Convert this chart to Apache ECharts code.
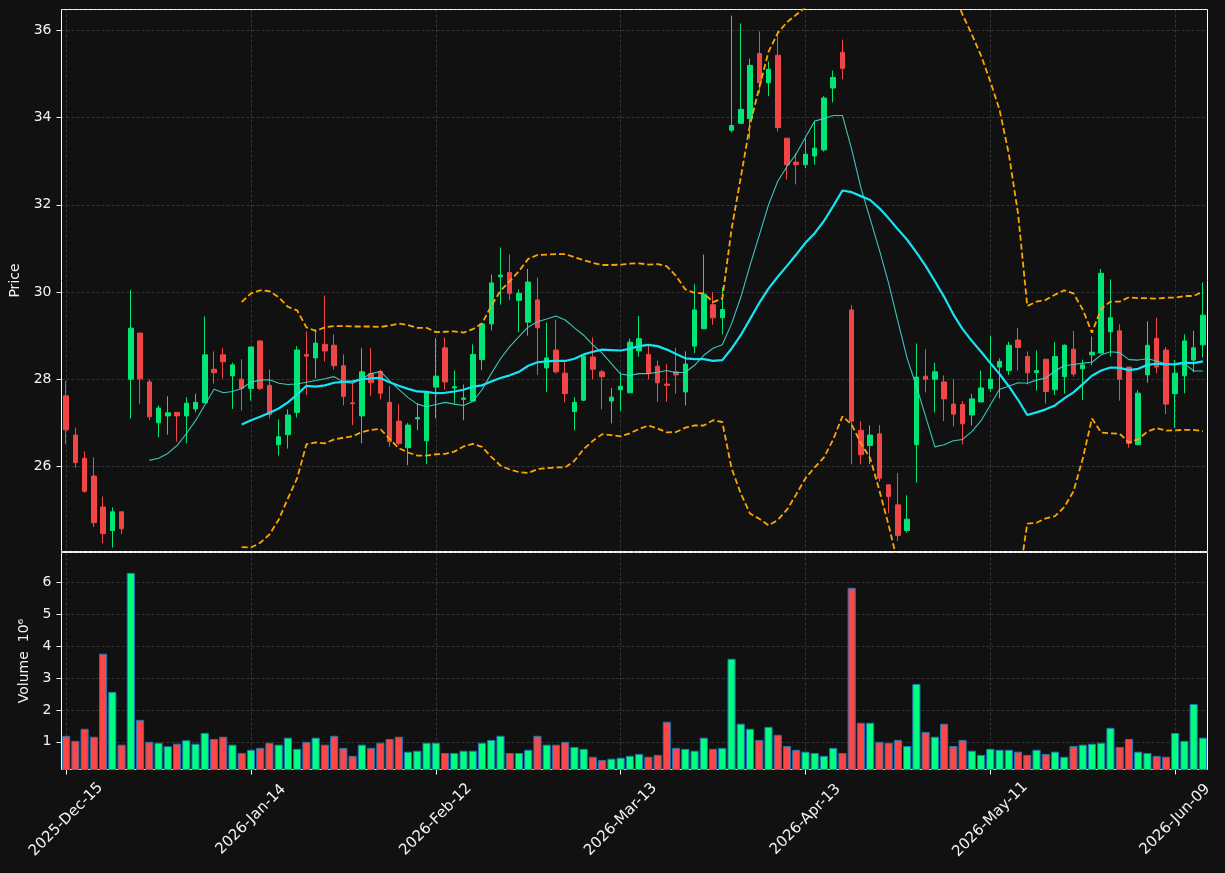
<!DOCTYPE html>
<html><head><meta charset="utf-8">
<script src="https://cdn.jsdelivr.net/npm/echarts@6/dist/echarts.min.js"></script>
<style>html,body{margin:0;padding:0;background:#111111}#chart{width:1225px;height:873px}</style></head>
<body><div id="chart"></div>
<script>
// ---- categories (NYSE trading days) ----
const dates=['2025-Dec-15','2025-Dec-16','2025-Dec-17','2025-Dec-18','2025-Dec-19','2025-Dec-22','2025-Dec-23','2025-Dec-24','2025-Dec-26','2025-Dec-29',
'2025-Dec-30','2025-Dec-31','2026-Jan-02','2026-Jan-05','2026-Jan-06','2026-Jan-07','2026-Jan-08','2026-Jan-09','2026-Jan-12','2026-Jan-13',
'2026-Jan-14','2026-Jan-15','2026-Jan-16','2026-Jan-20','2026-Jan-21','2026-Jan-22','2026-Jan-23','2026-Jan-26','2026-Jan-27','2026-Jan-28',
'2026-Jan-29','2026-Jan-30','2026-Feb-02','2026-Feb-03','2026-Feb-04','2026-Feb-05','2026-Feb-06','2026-Feb-09','2026-Feb-10','2026-Feb-11',
'2026-Feb-12','2026-Feb-13','2026-Feb-17','2026-Feb-18','2026-Feb-19','2026-Feb-20','2026-Feb-23','2026-Feb-24','2026-Feb-25','2026-Feb-26',
'2026-Feb-27','2026-Mar-02','2026-Mar-03','2026-Mar-04','2026-Mar-05','2026-Mar-06','2026-Mar-09','2026-Mar-10','2026-Mar-11','2026-Mar-12',
'2026-Mar-13','2026-Mar-16','2026-Mar-17','2026-Mar-18','2026-Mar-19','2026-Mar-20','2026-Mar-23','2026-Mar-24','2026-Mar-25','2026-Mar-26',
'2026-Mar-27','2026-Mar-30','2026-Mar-31','2026-Apr-01','2026-Apr-02','2026-Apr-06','2026-Apr-07','2026-Apr-08','2026-Apr-09','2026-Apr-10',
'2026-Apr-13','2026-Apr-14','2026-Apr-15','2026-Apr-16','2026-Apr-17','2026-Apr-20','2026-Apr-21','2026-Apr-22','2026-Apr-23','2026-Apr-24',
'2026-Apr-27','2026-Apr-28','2026-Apr-29','2026-Apr-30','2026-May-01','2026-May-04','2026-May-05','2026-May-06','2026-May-07','2026-May-08',
'2026-May-11','2026-May-12','2026-May-13','2026-May-14','2026-May-15','2026-May-18','2026-May-19','2026-May-20','2026-May-21','2026-May-22',
'2026-May-26','2026-May-27','2026-May-28','2026-May-29','2026-Jun-01','2026-Jun-02','2026-Jun-03','2026-Jun-04','2026-Jun-05','2026-Jun-08',
'2026-Jun-09','2026-Jun-10','2026-Jun-11','2026-Jun-12'];

// ---- OHLC ----
const opens=[27.62,26.72,26.19,25.78,25.07,24.53,24.96,28.00,29.06,27.94,27.00,27.16,27.24,27.16,27.32,27.46,28.23,28.56,28.08,28.00,
27.79,28.88,27.86,26.50,26.73,27.24,28.57,28.49,28.80,28.78,28.31,27.46,27.16,28.13,28.18,27.47,27.04,26.43,27.09,26.59,
27.82,28.72,27.80,27.54,27.50,28.45,29.27,30.35,30.45,29.81,29.31,29.82,28.26,28.67,28.14,27.26,27.52,28.51,28.17,27.50,
27.76,27.69,28.65,28.57,28.30,27.89,28.17,27.71,28.76,29.16,29.71,29.41,33.71,33.87,33.98,35.47,34.80,35.43,33.53,32.98,
32.92,33.12,33.26,34.68,35.50,29.59,26.83,26.48,26.75,25.58,25.12,24.53,26.50,28.07,28.00,27.94,27.43,27.42,27.18,27.48,
27.79,28.28,28.20,28.90,28.52,28.15,28.46,27.76,28.06,28.69,28.24,28.56,28.60,29.09,29.11,28.28,26.50,28.10,28.94,28.67,
27.67,28.08,28.44,28.79];
const highs=[27.96,26.89,26.35,26.21,25.31,25.06,24.96,30.05,29.06,28.00,27.40,27.61,27.24,27.59,27.67,29.44,28.64,28.72,28.38,28.46,
28.74,28.88,28.22,27.08,27.31,28.76,29.10,29.15,29.92,29.03,28.57,27.92,28.72,28.72,28.22,27.85,27.43,27.00,27.45,27.72,
28.94,28.96,28.20,27.88,28.80,29.27,30.40,31.02,30.86,30.06,30.53,30.33,29.30,29.37,28.40,27.59,28.55,28.96,28.22,27.80,
28.16,28.93,29.45,28.77,28.43,28.35,28.72,28.64,30.18,30.86,30.00,30.11,36.34,36.16,35.35,35.98,35.29,35.98,33.53,33.18,
33.52,33.92,34.49,35.08,35.79,29.70,27.04,26.94,26.95,25.58,25.85,25.34,28.82,28.69,28.38,28.09,28.00,27.50,27.66,28.20,
29.00,28.48,28.86,29.18,28.64,28.66,28.46,28.85,28.80,29.11,28.45,28.98,30.53,30.29,29.26,28.28,27.75,29.33,29.41,28.74,
28.44,29.03,29.11,30.22];
const lows=[26.51,25.97,25.40,24.61,24.24,24.14,24.45,27.10,27.43,27.06,26.67,26.73,26.57,26.53,27.24,27.46,27.90,28.02,27.32,27.28,
27.51,27.75,27.10,26.25,26.41,27.12,27.64,28.02,28.41,28.22,27.40,26.95,26.53,27.61,27.54,26.45,26.49,26.03,26.83,26.05,
27.10,27.76,27.44,27.06,27.50,28.21,29.12,29.71,29.81,29.08,29.00,28.10,27.71,28.13,27.47,26.83,27.50,28.00,27.31,26.99,
27.27,27.69,28.52,28.00,27.48,27.48,27.67,27.40,28.60,29.16,29.25,29.03,33.66,33.87,33.52,34.56,34.49,33.68,32.58,32.47,
32.84,32.92,33.22,34.35,34.88,26.05,26.05,26.05,25.65,24.93,24.29,24.48,25.63,27.70,27.24,27.04,26.92,26.51,26.94,27.48,
27.71,27.56,28.10,28.20,27.88,27.74,27.44,27.64,27.67,28.06,27.52,28.32,28.60,28.52,27.51,26.43,26.49,27.92,28.14,27.20,
26.88,27.68,28.16,28.50];
const closes=[26.84,26.09,25.43,24.71,24.46,24.96,24.57,29.17,28.01,27.14,27.34,27.23,27.16,27.45,27.47,28.56,28.15,28.40,28.33,27.79,
28.74,27.79,27.19,26.68,27.18,28.67,28.53,28.83,28.65,28.31,27.61,27.44,28.17,27.92,27.68,26.57,26.53,26.95,27.12,27.72,
28.07,27.94,27.83,27.57,28.57,29.27,30.21,30.39,29.97,29.97,30.23,29.18,28.49,28.17,27.67,27.47,28.53,28.23,28.06,27.59,
27.84,28.85,28.93,28.14,27.92,27.86,28.10,28.35,29.59,29.95,29.41,29.60,33.82,34.19,35.20,34.80,35.11,33.77,32.92,32.92,
33.16,33.30,34.45,34.92,35.13,27.04,26.27,26.72,25.73,25.31,24.42,24.79,28.05,28.00,28.17,27.55,27.20,26.98,27.55,27.80,
28.00,28.41,28.78,28.73,28.15,28.20,27.72,28.52,28.78,28.12,28.33,28.62,30.43,29.41,28.00,26.53,27.68,28.78,28.28,27.43,
28.14,28.88,28.72,29.47];

// ---- volume (millions) ----
const volumes=[1.19,1.03,1.41,1.16,3.77,2.57,0.91,6.31,1.69,1.00,0.97,0.86,0.94,1.05,0.94,1.28,1.09,1.16,0.91,0.65,
0.75,0.81,0.97,0.91,1.13,0.78,1.00,1.13,0.91,1.19,0.81,0.56,0.91,0.81,0.97,1.09,1.16,0.69,0.72,0.97,
0.97,0.65,0.65,0.72,0.72,0.97,1.06,1.19,0.65,0.65,0.75,1.19,0.91,0.91,1.00,0.84,0.78,0.53,0.43,0.47,
0.50,0.56,0.62,0.53,0.59,1.63,0.81,0.78,0.72,1.13,0.78,0.81,3.61,1.57,1.41,1.06,1.47,1.22,0.87,0.75,
0.69,0.65,0.56,0.81,0.65,5.84,1.60,1.60,1.00,0.97,1.06,0.87,2.82,1.31,1.16,1.57,0.87,1.06,0.72,0.59,
0.78,0.75,0.75,0.69,0.59,0.75,0.62,0.69,0.53,0.87,0.91,0.94,0.97,1.44,0.84,1.09,0.69,0.65,0.56,0.53,
1.28,1.03,2.19,1.13];

// ---- indicator lines as read (MA10 from index 9, MA20 / bands from index 19) ----
const ma10=[26.14,26.19,26.30,26.48,26.75,27.05,27.41,27.77,27.69,27.72,27.79,27.93,27.98,27.99,27.91,27.88,27.89,27.93,27.97,28.01,
28.06,27.94,27.91,28.01,28.13,28.18,27.97,27.77,27.58,27.43,27.37,27.42,27.47,27.43,27.40,27.49,27.76,28.13,28.47,28.75,
28.98,29.20,29.32,29.38,29.45,29.36,29.18,29.01,28.79,28.60,28.36,28.12,28.09,28.13,28.13,28.16,28.20,28.15,28.16,28.32,
28.55,28.71,28.79,29.27,29.88,30.61,31.30,32.00,32.54,32.88,33.17,33.55,33.92,33.98,34.05,34.05,33.27,32.39,31.68,30.96,
30.20,29.33,28.48,27.84,27.15,26.45,26.50,26.59,26.62,26.80,27.05,27.41,27.77,27.84,27.92,27.91,27.98,28.03,28.19,28.31,
28.34,28.37,28.39,28.56,28.63,28.61,28.45,28.44,28.47,28.42,28.35,28.33,28.36,28.19,28.19];
const ma20=[26.96,27.06,27.14,27.23,27.33,27.47,27.65,27.85,27.83,27.86,27.92,27.94,27.95,28.00,28.02,28.03,27.93,27.85,27.78,27.72,
27.71,27.68,27.69,27.72,27.76,27.83,27.86,27.95,28.03,28.09,28.17,28.31,28.39,28.41,28.42,28.42,28.47,28.57,28.63,28.68,
28.67,28.66,28.70,28.76,28.79,28.76,28.68,28.58,28.48,28.46,28.46,28.42,28.44,28.70,29.01,29.38,29.75,30.08,30.35,30.60,
30.86,31.13,31.35,31.63,31.97,32.33,32.29,32.20,32.11,31.92,31.69,31.44,31.20,30.91,30.60,30.25,29.89,29.49,29.15,28.88,
28.63,28.37,28.12,27.84,27.53,27.18,27.24,27.31,27.40,27.56,27.70,27.89,28.08,28.20,28.27,28.26,28.21,28.24,28.33,28.36,
28.34,28.35,28.38,28.37,28.41];
const upperBand=[29.77,29.97,30.04,30.02,29.88,29.66,29.58,29.19,29.11,29.19,29.22,29.22,29.21,29.21,29.21,29.20,29.23,29.28,29.24,29.18,
29.18,29.08,29.09,29.10,29.07,29.15,29.28,29.68,30.03,30.25,30.48,30.76,30.85,30.86,30.87,30.87,30.80,30.73,30.67,30.62,
30.62,30.63,30.65,30.66,30.63,30.64,30.59,30.37,30.06,29.98,29.97,29.77,29.85,31.44,32.63,33.84,34.69,35.51,35.94,36.19,
36.36,36.53,36.73,37.04,37.32,37.51,37.62,37.86,38.04,38.39,38.73,39.11,39.37,39.10,38.74,38.17,37.60,36.90,36.36,35.91,
35.42,34.83,34.18,33.17,31.80,29.68,29.78,29.82,29.94,30.04,29.97,29.60,29.07,29.62,29.78,29.78,29.88,29.86,29.86,29.85,
29.87,29.87,29.91,29.91,30.01];
const lowerBand=[24.15,24.14,24.25,24.44,24.78,25.27,25.73,26.51,26.55,26.53,26.62,26.66,26.69,26.79,26.84,26.86,26.63,26.42,26.32,26.25,
26.25,26.28,26.29,26.34,26.46,26.52,26.45,26.22,26.02,25.93,25.87,25.85,25.94,25.96,25.98,25.98,26.13,26.40,26.59,26.74,
26.72,26.69,26.76,26.86,26.94,26.87,26.78,26.79,26.89,26.94,26.94,27.06,27.02,25.96,25.38,24.92,24.80,24.65,24.77,25.01,
25.36,25.73,25.98,26.21,26.62,27.15,26.96,26.53,26.19,25.45,24.65,23.77,23.03,22.72,22.46,22.33,22.17,22.09,21.94,21.86,
21.84,21.91,22.07,22.51,23.27,24.69,24.71,24.81,24.86,25.07,25.43,26.18,27.10,26.78,26.76,26.75,26.55,26.62,26.80,26.88,
26.82,26.83,26.84,26.84,26.81];

// ---- build option ----
const UP='#00e676', DOWN='#f04646', VUP='#00ff80', VDOWN='#ff4646';
const TXT='#f2f2f2';
const pad=(arr,n)=>new Array(n).fill(null).concat(arr);
const kData=dates.map((d,i)=>[opens[i],closes[i],lows[i],highs[i]]);
const vData=volumes.map((v,i)=>({value:v,itemStyle:{color:closes[i]>=opens[i]?VUP:VDOWN}}));
const gridDash={show:true,interval:19,alignWithLabel:true,lineStyle:{color:'rgba(150,150,150,0.35)',width:0.8,type:[3,2]}};
const font='"DejaVu Sans", sans-serif';

const chart=echarts.init(document.getElementById('chart'),null,{renderer:'canvas'});
chart.setOption({
  backgroundColor:'#111111',
  animation:false,
  grid:[
    {left:61.5,top:9.5,width:1146,height:542,show:true,borderColor:'#ffffff',borderWidth:1,backgroundColor:'transparent'},
    {left:61.5,top:552.5,width:1146,height:217,show:true,borderColor:'#ffffff',borderWidth:1,backgroundColor:'transparent'}
  ],
  xAxis:[
    {type:'category',gridIndex:0,data:dates,boundaryGap:true,axisLine:{show:false},axisTick:{show:false},axisLabel:{show:false},splitLine:gridDash},
    {type:'category',gridIndex:1,data:dates,boundaryGap:true,axisLine:{show:false},
     axisTick:{show:true,interval:19,alignWithLabel:true,length:5,lineStyle:{color:'#ffffff',width:1}},
     axisLabel:{show:true,interval:19,rotate:45,align:'center',verticalAlign:'middle',margin:50,color:TXT,fontSize:15,fontFamily:font},
     splitLine:gridDash}
  ],
  yAxis:[
    {type:'value',gridIndex:0,min:24.05,max:36.48,splitNumber:6,scale:true,
     name:'Price',nameLocation:'middle',nameGap:38,nameRotate:90,nameTextStyle:{color:TXT,fontSize:14,fontFamily:font},
     axisLine:{show:false},axisTick:{show:true,length:5,lineStyle:{color:'#ffffff'}},
     axisLabel:{color:TXT,fontSize:14,fontFamily:font,margin:10,showMinLabel:false,showMaxLabel:false,formatter:v=>String(Math.round(v))},
     splitLine:{show:true,lineStyle:{color:'rgba(150,150,150,0.35)',width:0.8,type:[3,2]}}},
    {type:'value',gridIndex:1,min:0.13,max:6.95,splitNumber:6,
     name:'Volume  10\u2076',nameLocation:'middle',nameGap:30,nameRotate:90,nameTextStyle:{color:TXT,fontSize:14,fontFamily:font},
     axisLine:{show:false},axisTick:{show:true,length:5,lineStyle:{color:'#ffffff'}},
     axisLabel:{color:TXT,fontSize:14,fontFamily:font,margin:10,showMinLabel:false,showMaxLabel:false,formatter:v=>String(Math.round(v))},
     splitLine:{show:true,lineStyle:{color:'rgba(150,150,150,0.35)',width:0.8,type:[3,2]}}}
  ],
  series:[
    {type:'candlestick',xAxisIndex:0,yAxisIndex:0,data:kData,barWidth:5,z:3,
     itemStyle:{color:UP,color0:DOWN,borderColor:UP,borderColor0:DOWN,borderWidth:1}},
    {type:'line',xAxisIndex:0,yAxisIndex:0,data:pad(ma10,9),symbol:'none',z:4,clip:true,
     lineStyle:{color:'#40d8cc',width:1.1,opacity:0.9}},
    {type:'line',xAxisIndex:0,yAxisIndex:0,data:pad(ma20,19),symbol:'none',z:5,clip:true,
     lineStyle:{color:'#14e4f4',width:2.2}},
    {type:'line',xAxisIndex:0,yAxisIndex:0,data:pad(upperBand,19),symbol:'none',z:4,clip:true,
     lineStyle:{color:'#ffa500',width:1.8,type:[6,3]}},
    {type:'line',xAxisIndex:0,yAxisIndex:0,data:pad(lowerBand,19),symbol:'none',z:4,clip:true,
     lineStyle:{color:'#ffa500',width:1.8,type:[6,3]}},
    {type:'bar',xAxisIndex:1,yAxisIndex:1,data:vData,barWidth:'88%',clip:true,
     itemStyle:{borderColor:'#1f77b4',borderWidth:1}}
  ]
});
</script></body></html>
